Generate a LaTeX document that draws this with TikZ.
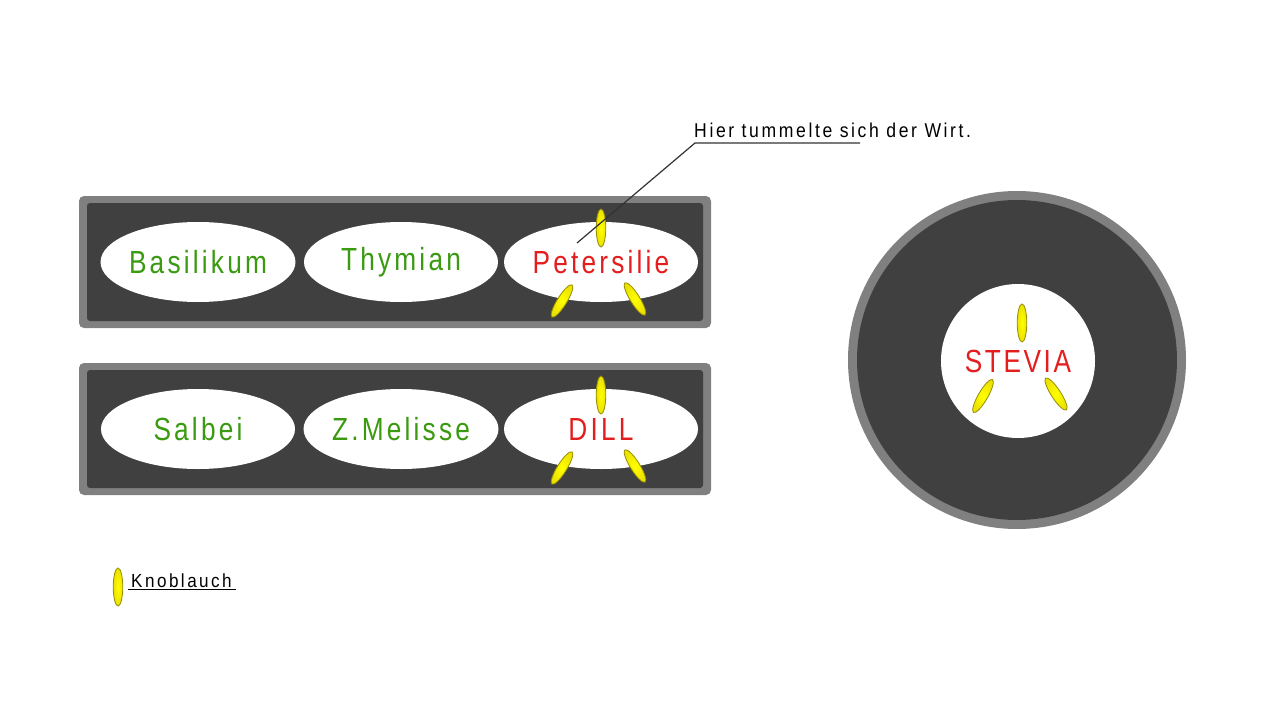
\documentclass[tikz,border=0pt]{standalone}
\usepackage{fontspec}
\setmainfont{Liberation Sans}[FakeStretch=0.82]
\newfontfamily\herbfont{Liberation Sans}[FakeStretch=0.82,LetterSpace=10]
\newfontfamily\steviafont{Liberation Sans}[FakeStretch=0.82,LetterSpace=8]
\newfontfamily\notefont{Liberation Sans}[FakeStretch=0.88,LetterSpace=13]
\newfontfamily\legendfont{Liberation Sans}[FakeStretch=0.9,LetterSpace=13]
\usetikzlibrary{shapes.geometric}
\definecolor{boxgray}{RGB}{128,128,128}
\definecolor{boxdark}{RGB}{64,64,64}
\definecolor{herbgreen}{RGB}{58,154,16}
\definecolor{herbred}{RGB}{228,30,30}
\definecolor{cloveedge}{RGB}{150,140,0}
\definecolor{noteline}{RGB}{50,50,50}
\tikzset{
  outerbox/.style={fill=boxgray, rounded corners=5pt},
  innerbox/.style={fill=boxdark, rounded corners=3pt},
  herb/.style={ellipse, fill=white, minimum width=194pt, minimum height=80pt, inner sep=0pt, font=\herbfont\fontsize{32}{36}\selectfont},
  green herb/.style={herb, text=herbgreen},
  red herb/.style={herb, text=herbred},
  clove/.style={ellipse, draw=cloveedge, line width=0.8pt, inner color=yellow, outer color={rgb,255:red,235;green,225;blue,0}, minimum width=9.5pt, minimum height=38pt, inner sep=0pt},
}
\begin{document}
\begin{tikzpicture}[x=1pt,y=-1pt]
\useasboundingbox (0,0) rectangle (1280,720);
% row 1
\fill[outerbox] (79,196) rectangle (711,328);
\fill[innerbox] (87,203) rectangle (703,321);
\node[green herb] (basil) at (198,262) {Basilikum};
\node[green herb] (thyme) at (401,262) {Thymian};
\node[red herb] (parsley) at (601,262) {Petersilie};
% row 2
\fill[outerbox] (79,363) rectangle (711,495);
\fill[innerbox] (87,370) rectangle (703,488);
\node[green herb] (sage) at (198,429) {Salbei};
\node[green herb] (melisse) at (401,429) {Z.Melisse};
\node[red herb] (dill) at (601,429) {DILL};
% stevia pot
\fill[boxgray] (1017,360) circle[radius=169];
\fill[boxdark] (1017,360) circle[radius=160];
\node[circle, fill=white, minimum size=154pt, inner sep=0pt, text=herbred, font=\steviafont\fontsize{32}{36}\selectfont] (stevia) at (1018,361) {STEVIA};
% garlic cloves
\node[clove] (p1) at (601,228) {};
\node[clove, rotate=-32] (p2) at (562,301) {};
\node[clove, rotate=32] (p3) at (635,299) {};
\node[clove] (d1) at (601,395) {};
\node[clove, rotate=-32] (d2) at (562,468) {};
\node[clove, rotate=32] (d3) at (635,466) {};
\node[clove] (s1) at (1022,323) {};
\node[clove, rotate=-30] (s2) at (983,396) {};
\node[clove, rotate=33] (s3) at (1056,394) {};
% annotation
\coordinate (tip) at (577,243);
\coordinate (elbow) at (695,143);
\coordinate (noteend) at (860,143);
\node[anchor=base west, inner sep=0pt, font=\notefont\fontsize{20}{23}\selectfont] (note) at (694,137) {Hier tummelte sich der Wirt.};
\draw[noteline, line width=1.2pt] (tip) -- (elbow) -- (noteend);
% legend
\node[clove] (lclove) at (118,587) {};
\node[anchor=base west, inner sep=0pt, font=\legendfont\fontsize{19}{22}\selectfont] (legend) at (131,587) {Knoblauch};
\coordinate (ul1) at (128,589);
\coordinate (ul2) at (236,589);
\draw[black, line width=1pt] (ul1) -- (ul2);
\end{tikzpicture}
\end{document}
